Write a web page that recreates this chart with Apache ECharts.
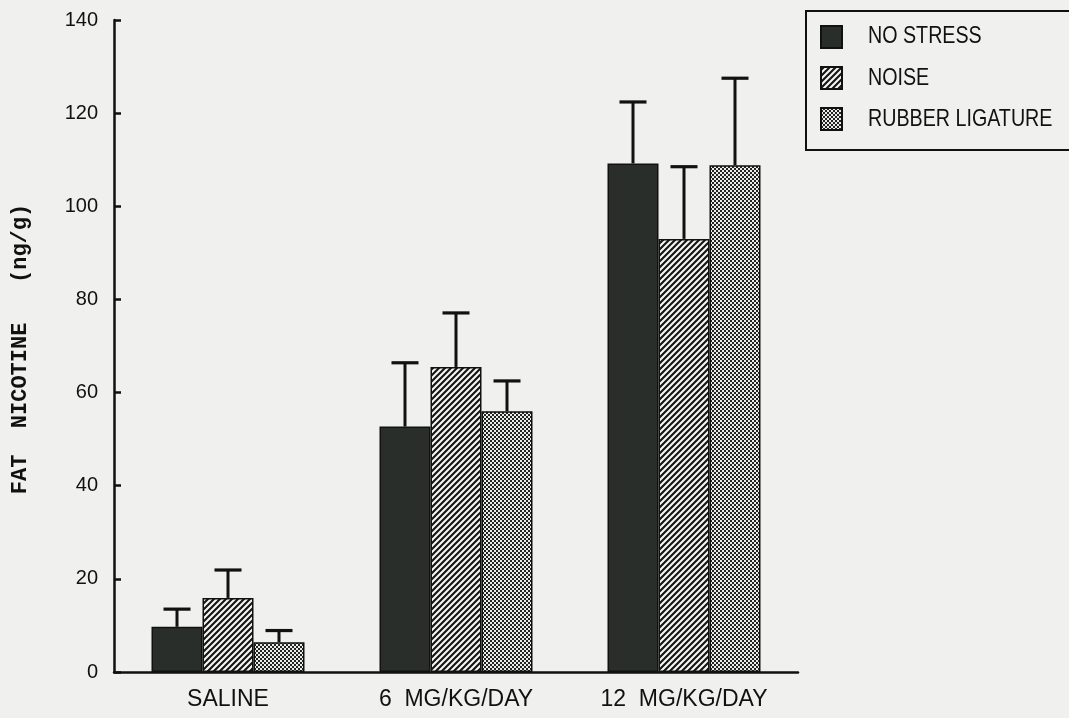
<!DOCTYPE html>
<html>
<head>
<meta charset="utf-8">
<script src="https://cdn.jsdelivr.net/npm/echarts@6/dist/echarts.min.js"></script>
<style>
html,body{margin:0;padding:0;background:#f0f0ee;}
#c{width:1069px;height:718px;}
</style>
</head>
<body>
<div id="c"></div>
<script>
// ---- data ----
var categories = ['SALINE', '6  MG/KG/DAY', '12  MG/KG/DAY'];
var seriesNames = ['NO STRESS', 'NOISE', 'RUBBER LIGATURE'];
var noStress = [9.7, 52.7, 109.2];
var noStressTop = [13.5, 66.4, 122.4];
var noise = [15.9, 65.5, 93.0];
var noiseTop = [21.9, 77.1, 108.5];
var rubber = [6.4, 56.0, 108.8];
var rubberTop = [8.9, 62.5, 127.5];
var yTicks = [0, 20, 40, 60, 80, 100, 120, 140];

// ---- patterns ----
function hatchPattern() {
  var c = document.createElement('canvas');
  c.width = 6; c.height = 6;
  var g = c.getContext('2d');
  g.fillStyle = '#151716'; g.fillRect(0, 0, 6, 6);
  g.strokeStyle = '#f6f6f4'; g.lineWidth = 2.1;
  g.beginPath();
  g.moveTo(-1, 1); g.lineTo(1, -1);
  g.moveTo(0, 6); g.lineTo(6, 0);
  g.moveTo(5, 7); g.lineTo(7, 5);
  g.stroke();
  return {image: c, repeat: 'repeat'};
}
function dotPattern() {
  var c = document.createElement('canvas');
  c.width = 4; c.height = 4;
  var g = c.getContext('2d');
  g.fillStyle = '#222422'; g.fillRect(0, 0, 4, 4);
  g.fillStyle = '#ececea';
  g.fillRect(0, 0, 2, 2);
  g.fillRect(2, 2, 2, 2);
  return {image: c, repeat: 'repeat'};
}

var BAR_W = 51;
var chart = echarts.init(document.getElementById('c'), null, {renderer: 'canvas'});

function errSeries(vals, tops, k) {
  return {
    type: 'custom',
    name: 'err' + k,
    z: 5,
    encode: {x: 0, y: [1, 2]},
    data: vals.map(function (v, i) { return [i, v, tops[i]]; }),
    renderItem: function (params, api) {
      var i = api.value(0);
      var b = api.coord([i, api.value(1)]);
      var t = api.coord([i, api.value(2)]);
      var x = b[0] + k * BAR_W;
      return {
        type: 'group',
        children: [
          {type: 'line', shape: {x1: x, y1: b[1], x2: x, y2: t[1]}, style: {stroke: '#111', lineWidth: 3}},
          {type: 'line', shape: {x1: x - 13.5, y1: t[1], x2: x + 13.5, y2: t[1]}, style: {stroke: '#111', lineWidth: 3.2}}
        ]
      };
    }
  };
}

var barStyleBase = {borderColor: '#111', borderWidth: 1.5};
var legendTextY = [36.5, 78, 119.5];

var option = {
  backgroundColor: '#f0f0ee',
  animation: false,
  grid: {left: 114, right: 271, top: 20, bottom: 46, containLabel: false},
  legend: {
    data: seriesNames,
    orient: 'vertical',
    left: 806,
    top: 11,
    padding: [14, 240, 19, 14],
    itemWidth: 21,
    itemHeight: 22,
    itemGap: 17,
    icon: 'rect',
    borderColor: '#111',
    borderWidth: 2,
    backgroundColor: '#f0f0ee',
    formatter: function () { return ''; },
    textStyle: {fontSize: 10, lineHeight: 10, padding: 0}
  },
  xAxis: {
    type: 'category',
    data: categories,
    axisLine: {lineStyle: {color: '#111', width: 2.5}},
    axisTick: {show: false},
    axisLabel: {
      color: '#111',
      fontFamily: '"Liberation Sans", Arial, sans-serif',
      fontSize: 23,
      margin: 16
    }
  },
  yAxis: {
    type: 'value',
    min: 0,
    max: 140,
    interval: 20,
    splitLine: {show: false},
    axisLine: {show: true, lineStyle: {color: '#111', width: 2.5}},
    axisTick: {show: true, inside: true, length: 7, lineStyle: {color: '#111', width: 2.5}},
    axisLabel: {
      color: '#111',
      fontFamily: '"Liberation Sans", Arial, sans-serif',
      fontSize: 20,
      margin: 16,
      formatter: function (v) { return yTicks.indexOf(v) >= 0 ? String(v) : ''; }
    }
  },
  graphic: [{
    type: 'text',
    x: 20,
    y: 349,
    rotation: Math.PI / 2,
    style: {
      text: 'FAT  NICOTINE   (ng/g)',
      fill: '#111',
      font: 'bold 22px "Liberation Mono", "Courier New", monospace',
      textAlign: 'center',
      textVerticalAlign: 'middle'
    }
  }].concat(seriesNames.map(function (n, i) {
    return {
      type: 'text',
      x: 868,
      y: legendTextY[i],
      scaleX: 0.82,
      z: 100,
      style: {
        text: n,
        fill: '#111',
        font: '24px "Liberation Sans", Arial, sans-serif',
        textAlign: 'left',
        textVerticalAlign: 'middle'
      }
    };
  })),
  series: [
    {name: seriesNames[0], type: 'bar', data: noStress, barWidth: BAR_W, barGap: '0%',
     itemStyle: Object.assign({color: '#2a2e2b'}, barStyleBase)},
    {name: seriesNames[1], type: 'bar', data: noise, barWidth: BAR_W, barGap: '0%',
     itemStyle: Object.assign({color: hatchPattern()}, barStyleBase)},
    {name: seriesNames[2], type: 'bar', data: rubber, barWidth: BAR_W, barGap: '0%',
     itemStyle: Object.assign({color: dotPattern()}, barStyleBase)},
    errSeries(noStress, noStressTop, -1),
    errSeries(noise, noiseTop, 0),
    errSeries(rubber, rubberTop, 1)
  ]
};
chart.setOption(option);
</script>
</body>
</html>
